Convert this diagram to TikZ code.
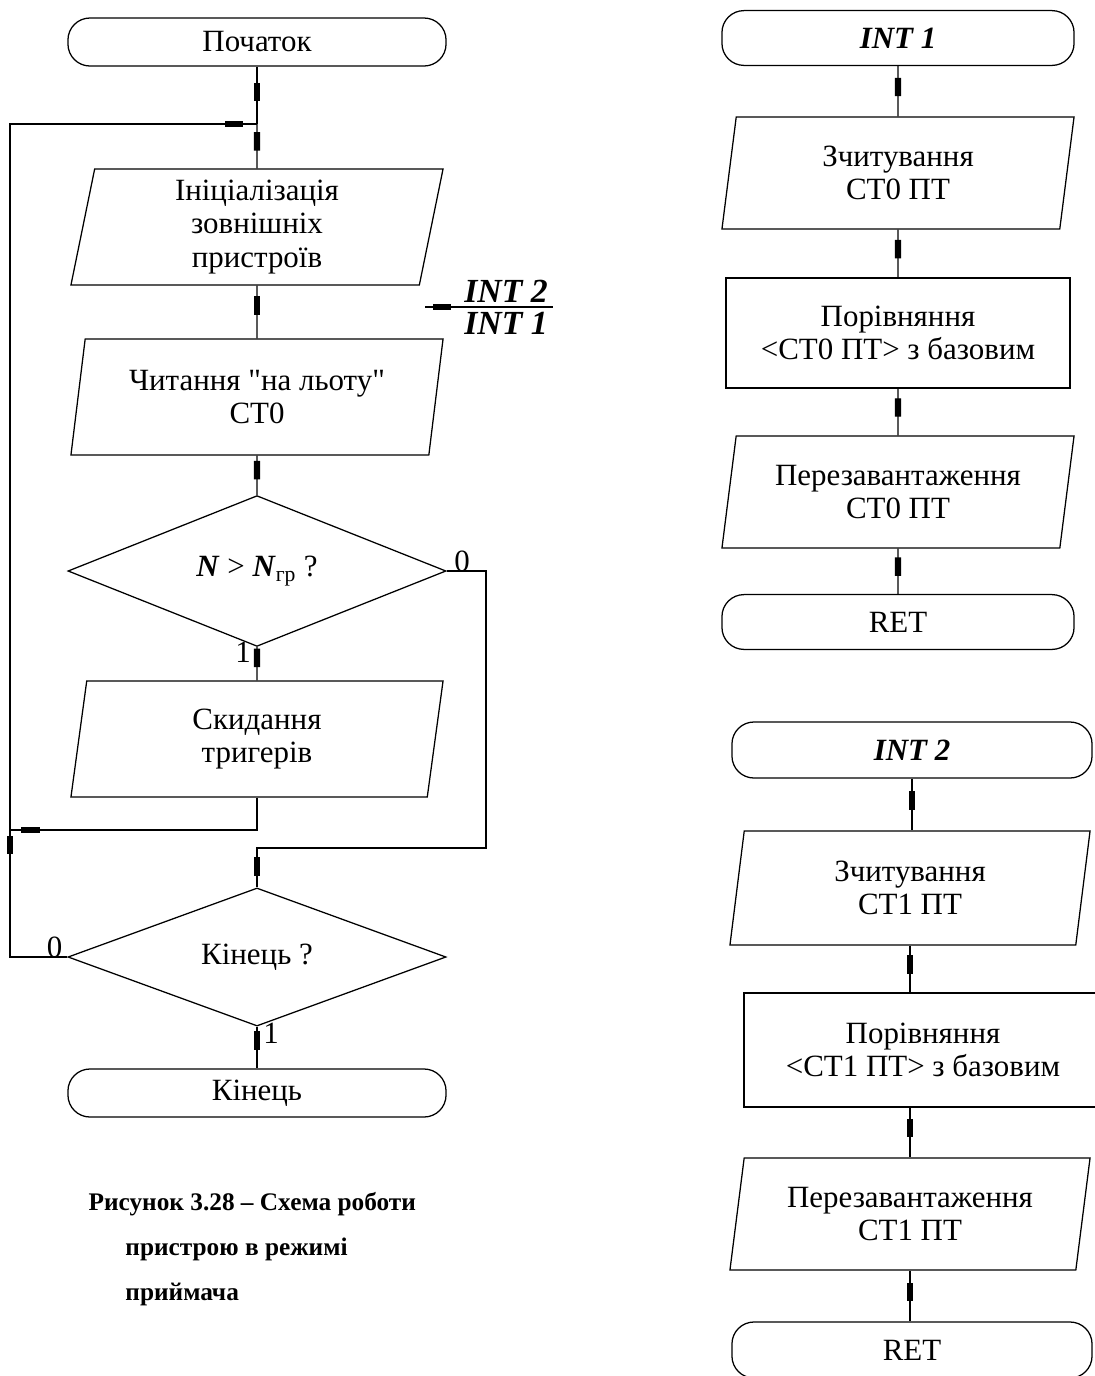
\documentclass[tikz,border=0pt]{standalone}
\usepackage{fontspec}
\setmainfont{Liberation Serif}
\newfontfamily\qfont{Liberation Serif}
\usepackage{tikz}
\usetikzlibrary{arrows.meta,positioning,shapes.geometric,decorations.markings}

\tikzset{
  base/.style={draw=black, line width=0.9pt, align=center, inner sep=2pt,
    font=\fontsize{22}{23.5}\selectfont},
  term/.style={base, rectangle, rounded corners=0.55cm,
    minimum width=9.45cm, minimum height=1.2cm},
  io/.style={base, trapezium, trapezium left angle=76.5, trapezium right angle=103.5,
    trapezium stretches body=true, minimum width=9.3cm, minimum height=2.9cm},
  proc/.style={base, rectangle, minimum width=8.6cm, minimum height=2.75cm},
  cond/.style={base, diamond, minimum width=9.45cm, minimum height=2.95cm, inner sep=0pt},
  lbl/.style={font=\fontsize{22}{23.5}\selectfont, inner sep=1pt},
  intl/.style={font=\fontsize{24}{26}\selectfont\bfseries\itshape, inner sep=0pt, anchor=base},
  tipat/.style={postaction={decorate, decoration={markings,
    mark=at position #1 with {\arrow{Rectangle[length=4.6mm,width=1.6mm]}}}}}
}

\begin{document}
\begin{tikzpicture}[x=0.025cm, y=-0.025cm, line width=0.9pt]
\useasboundingbox (0,0) rectangle (1094,1376);
% ---- main program ----
\node[term] (start) at (257,42) {Початок};
\coordinate (jtop) at (257,124);
\node[io] (init) at (257,227) {Ініціалізація\\зовнішніх\\пристроїв};
\node[io] (read) at (257,397) {Читання {\qfont"}на льоту{\qfont"}\\СТ0};
\node[cond] (dec1) at (257,571) {\textbf{\textit{N}} > \textbf{\textit{N}}\textsubscript{гр} ?};
\node[io] (reset) at (257,739) {Скидання\\тригерів};
\node[cond] (dec2) at (257,957) {Кінець ?};
\node[term] (end) at (257,1093) {Кінець};
\coordinate (jright) at (486,571);
\coordinate (jmid) at (257,848);
\coordinate (jlow) at (10,830);
\coordinate (jleft) at (10,957);
% labels of the branches
\node[lbl, above right=-2pt and 4pt] (d1no) at (dec1.east) {0};
\node[lbl, below left=-5pt and 3pt] (d1yes) at (dec1.south) {1};
\node[lbl, above left=-2pt and 2pt] (d2no) at (dec2.west) {0};
\node[lbl, below right=-4pt and 3pt] (d2yes) at (dec2.south) {1};
% connectors
\draw[tipat=0.6] (start) -- (jtop);
\draw[tipat=0.6] (jtop) -- (init);
\draw[tipat=0.55] (init) -- (read);
\draw[tipat=0.6] (read) -- (dec1);
\draw[tipat=0.6] (dec1) -- (reset);
\draw[tipat=0.96] (reset.south) |- (jlow);
\draw[tipat=0.157, tipat=0.988] (dec2.west) -- (jleft) |- (jtop);
\draw[tipat=0.98] (dec1.east) -- (jright) |- (jmid) -- (dec2.north);
\draw[tipat=0.55] (dec2) -- (end);
% ---- interrupt entry ----
\coordinate (fl) at (460,307);
\coordinate (fr) at (553,307);
\coordinate (fend) at (425,307);
\coordinate (fmidA) at (506,302);
\coordinate (fmidB) at (506,334);
\draw (fl) -- (fr);
\draw[tipat=0.77] (fl) -- (fend);
\node[intl] (intA) at (fmidA) {INT 2};
\node[intl] (intB) at (fmidB) {INT 1};
% ---- caption ----
\node[anchor=north west, align=left, inner sep=0pt,
  font=\fontsize{18}{32}\selectfont\bfseries] (cap) at (88,1192)
  {Рисунок 3.28 – Схема роботи\\\hspace*{0.92cm}пристрою в режимі\\\hspace*{0.92cm}приймача};
% ---- INT 1 ----
\node[term, minimum width=8.8cm, minimum height=1.37cm] (int1) at (898,38) {\textbf{\textit{INT 1}}};
\node[io, minimum width=8.8cm, minimum height=2.8cm] (rd0) at (898,173) {Зчитування\\СТ0 ПТ};
\node[proc] (cmp0) at (898,333) {Порівняння\\<СТ0 ПТ> з базовим};
\node[io, minimum width=8.8cm, minimum height=2.8cm] (re0) at (898,492) {Перезавантаження\\СТ0 ПТ};
\node[term, minimum width=8.8cm, minimum height=1.37cm] (ret0) at (898,622) {RET};
\draw[tipat=0.6] (int1) -- (rd0);
\draw[tipat=0.6] (rd0) -- (cmp0);
\draw[tipat=0.6] (cmp0) -- (re0);
\draw[tipat=0.6] (re0) -- (ret0);
% ---- INT 2 ----
\node[term, minimum width=9cm, minimum height=1.4cm] (int2) at (912,750) {\textbf{\textit{INT 2}}};
\node[io, minimum width=9cm, minimum height=2.85cm] (rd1) at (910,888) {Зчитування\\СТ1 ПТ};
\node[proc, minimum width=8.95cm, minimum height=2.85cm] (cmp1) at (923,1050) {Порівняння\\<СТ1 ПТ> з базовим};
\node[io, minimum width=9cm, minimum height=2.8cm] (re1) at (910,1214) {Перезавантаження\\СТ1 ПТ};
\node[term, minimum width=9cm, minimum height=1.4cm] (ret1) at (912,1350) {RET};
\draw[tipat=0.6] (int2.south) -- (int2.south |- rd1.north);
\draw[tipat=0.6] (rd1.south) -- (rd1.south |- cmp1.north);
\draw[tipat=0.6] (re1.north |- cmp1.south) -- (re1.north);
\draw[tipat=0.6] (re1.south) -- (re1.south |- ret1.north);
\end{tikzpicture}
\end{document}
